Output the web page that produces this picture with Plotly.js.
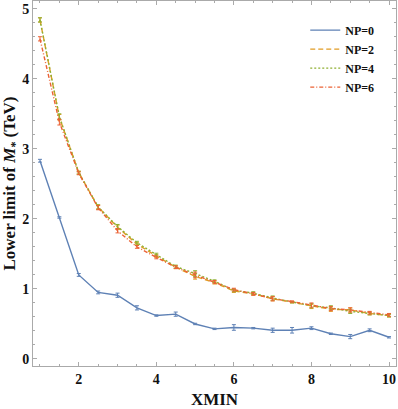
<!DOCTYPE html>
<html>
<head>
<meta charset="utf-8">
<script src="https://cdn.plot.ly/plotly-3.0.1.min.js"></script>
<style>
  html, body { margin: 0; padding: 0; background: #fff; }
  #plot { width: 398px; height: 409px; }
</style>
</head>
<body>
<div id="plot"></div>
<script>
// XMIN values
var xmin = [1, 1.5, 2, 2.5, 3, 3.5, 4, 4.5, 5, 5.5, 6, 6.5, 7, 7.5, 8, 8.5, 9, 9.5, 10];

// lower limit of M* (TeV) for each NP
var np0 = [2.83, 2.02, 1.20, 0.95, 0.91, 0.73, 0.62, 0.64, 0.50, 0.43, 0.45, 0.44, 0.41, 0.41, 0.44, 0.36, 0.32, 0.41, 0.31];
var np2 = [4.84, 3.45, 2.66, 2.17, 1.88, 1.64, 1.47, 1.31, 1.18, 1.09, 0.97, 0.93, 0.86, 0.81, 0.75, 0.71, 0.70, 0.65, 0.62];
var np4 = [4.84, 3.46, 2.66, 2.17, 1.89, 1.66, 1.49, 1.32, 1.22, 1.11, 0.98, 0.94, 0.87, 0.81, 0.76, 0.73, 0.68, 0.65, 0.62];
var np6 = [4.57, 3.38, 2.65, 2.16, 1.83, 1.60, 1.45, 1.31, 1.20, 1.10, 0.99, 0.93, 0.86, 0.82, 0.77, 0.72, 0.70, 0.66, 0.63];

// small uncertainties
var err0 = [0.02, 0.01, 0.02, 0.02, 0.03, 0.03, 0.01, 0.03, 0.01, 0.01, 0.04, 0.01, 0.03, 0.04, 0.02, 0.01, 0.03, 0.02, 0.01];
var err2 = [0.03, 0.04, 0.02, 0.03, 0.03, 0.02, 0.02, 0.02, 0.04, 0.02, 0.02, 0.02, 0.03, 0.01, 0.03, 0.03, 0.03, 0.02, 0.02];

var serif = "Liberation Serif";

function mk(name, y, err, color, dash) {
  return {
    x: xmin, y: y, name: name,
    type: "scatter", mode: "lines",
    line: {color: color, width: 1.4, dash: dash},
    error_y: {type: "data", array: err, color: color, thickness: 1, width: 2}
  };
}

var data = [
  mk("NP=0", np0, err0, "#5E81B5", "solid"),
  mk("NP=2", np2, err2, "#E19C24", "5px,3px"),
  mk("NP=4", np4, err2, "#8FB032", "2px,2px"),
  mk("NP=6", np6, err2, "#EB6235", "4px,2px,1px,2px")
];

var tickfont = {family: serif, size: 14, color: "#111", weight: "bold"};

var layout = {
  width: 398, height: 409,
  margin: {l: 33, r: 2, t: 1, b: 43},
  paper_bgcolor: "#fff", plot_bgcolor: "#fff",
  showlegend: true,
  legend: {
    x: 0.75, y: 0.96, xanchor: "left", yanchor: "top",
    bgcolor: "rgba(0,0,0,0)", tracegroupgap: 0, itemwidth: 30,
    font: {family: serif, size: 12, color: "#111", weight: "bold"}
  },
  xaxis: {
    range: [0.82, 10.18], tickvals: [2, 4, 6, 8, 10],
    ticks: "inside", ticklen: 4, tickcolor: "#aaa",
    minor: {dtick: 0.5, tick0: 0, ticks: "inside", ticklen: 2, tickcolor: "#aaa", showgrid: false},
    showgrid: false, zeroline: false,
    showline: true, linecolor: "#aaa", linewidth: 1, mirror: "ticks",
    tickfont: tickfont,
    title: {text: "XMIN", standoff: 8, font: {family: serif, size: 17, color: "#111", weight: "bold"}}
  },
  yaxis: {
    range: [-0.1, 5.11], tickvals: [0, 1, 2, 3, 4, 5],
    ticks: "inside", ticklen: 4, tickcolor: "#aaa",
    minor: {dtick: 0.2, tick0: 0, ticks: "inside", ticklen: 2, tickcolor: "#aaa", showgrid: false},
    showgrid: false, zeroline: false,
    showline: true, linecolor: "#aaa", linewidth: 1, mirror: "ticks",
    tickfont: tickfont,
    title: {text: "Lower limit of <i>M</i><sub>*</sub> (TeV)", standoff: 6, font: {family: serif, size: 17, color: "#111", weight: "bold"}}
  }
};

Plotly.newPlot("plot", data, layout, {displayModeBar: false, staticPlot: true});
</script>
</body>
</html>
